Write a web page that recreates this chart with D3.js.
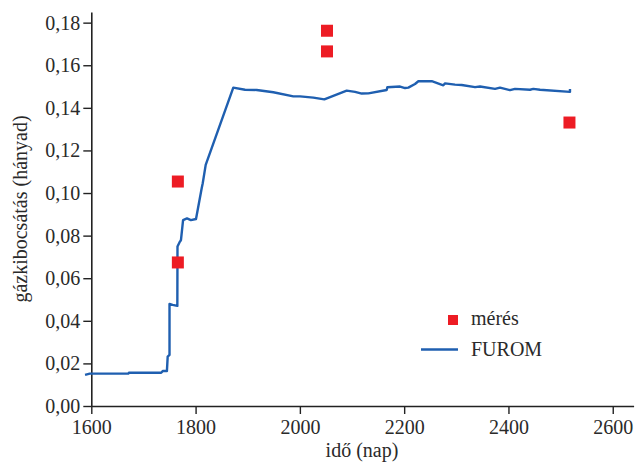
<!DOCTYPE html>
<html>
<head>
<meta charset="utf-8">
<script src="https://cdn.jsdelivr.net/npm/d3@7"></script>
<style>
  html, body { margin: 0; padding: 0; background: #fff; }
</style>
</head>
<body>
<svg id="chart" width="637" height="463"></svg>
<script>
// ---- data ----
const xTicks = [1600, 1800, 2000, 2200, 2400, 2600];
const yTicks = [0, 0.02, 0.04, 0.06, 0.08, 0.10, 0.12, 0.14, 0.16, 0.18];

// measurements (mérés)
const meresDays = [1766, 1766, 2052, 2052, 2517];
const meresValues = [0.1054, 0.0674, 0.1762, 0.1665, 0.1331];

// FUROM model curve
const furomDays = [1588, 1597, 1671, 1672, 1734, 1737, 1745, 1746.5, 1750, 1750, 1756, 1765, 1765.3, 1770, 1771, 1772, 1776, 1783.5, 1791, 1800.8, 1811.7, 1813.7, 1819.4, 1872.3,
  1894.8, 1917.2, 1949.1, 1987.4, 2000.3, 2025.8, 2046.9, 2089.8, 2105.8, 2118.6, 2131.3, 2166.5, 2167.7, 2192.1, 2201.6, 2208, 2220.8, 2227.2, 2252.9, 2275.1, 2278.4,
  2297.5, 2310.4, 2335.9, 2345.5, 2374.3, 2383.8, 2403, 2412.6, 2441.4, 2447.7, 2460.6, 2518, 2518];
const furomValues = [0.0146, 0.0152, 0.0152, 0.0156, 0.0156, 0.0164, 0.0164, 0.0232, 0.0240, 0.0479, 0.0475, 0.0470, 0.0749, 0.0772, 0.0775, 0.0780, 0.0873, 0.0881, 0.0873, 0.0878, 0.1022, 0.1046, 0.1132, 0.1495,
  0.1485, 0.1484, 0.1473, 0.1454, 0.1454, 0.1448, 0.1440, 0.1481, 0.1475, 0.1467, 0.1468, 0.1484, 0.1497, 0.1500, 0.1493, 0.1495, 0.1512, 0.1525, 0.1525, 0.1506, 0.1515,
  0.1509, 0.1507, 0.1497, 0.1500, 0.1489, 0.1495, 0.1483, 0.1489, 0.1485, 0.1489, 0.1485, 0.1475, 0.1489];

const legendLabels = ["mérés", "FUROM"];
const xLabel = "idő (nap)";
const yLabel = "gázkibocsátás (hányad)";

// ---- drawing ----
const FONT = "'Liberation Serif', 'DejaVu Serif', 'Times New Roman', serif";
const TXT = "#2a2a2a";
const svg = d3.select("#chart");
const x = d3.scaleLinear().domain([1600, 2640]).range([91.3, 633.6]);
const y = d3.scaleLinear().domain([0, 0.185]).range([406, 12]);

const fmt = d => d3.format(".2f")(d).replace(".", ",");

const xAxis = svg.append("g")
  .attr("transform", "translate(0,406)")
  .call(d3.axisBottom(x).tickValues(xTicks).tickSize(8).tickPadding(6).tickFormat(d3.format("d")).tickSizeOuter(0));
const yAxis = svg.append("g")
  .attr("transform", "translate(91.3,0)")
  .call(d3.axisLeft(y).tickValues(yTicks).tickSize(8).tickPadding(3).tickFormat(fmt).tickSizeOuter(0));

[xAxis, yAxis].forEach(g => {
  g.attr("font-family", null).attr("font-size", null);
  g.selectAll("path.domain").attr("stroke", "#222").attr("stroke-width", 1.6);
  g.selectAll(".tick line").attr("stroke", "#222").attr("stroke-width", 1.4);
  g.selectAll(".tick text").style("font-family", FONT).style("font-size", "20px").style("fill", TXT);
});

// axis titles
svg.append("text")
  .attr("x", 362).attr("y", 457)
  .attr("text-anchor", "middle")
  .style("font-family", FONT).style("font-size", "20px").style("fill", TXT)
  .text(xLabel);
svg.append("text")
  .attr("transform", "translate(27,209) rotate(-90)")
  .attr("text-anchor", "middle")
  .style("font-family", FONT).style("font-size", "20px").style("fill", TXT)
  .text(yLabel);

// FUROM line
const furom = furomDays.map((d, i) => [d, furomValues[i]]);
const lineGen = d3.line().x(d => x(d[0])).y(d => y(d[1]));
svg.append("path")
  .datum(furom)
  .attr("d", lineGen)
  .attr("fill", "none")
  .attr("stroke", "#1f5fb0")
  .attr("stroke-width", 2.4)
  .attr("stroke-linejoin", "round");

// measurement squares
const sq = 12;
svg.selectAll("rect.meres")
  .data(meresDays.map((d, i) => [d, meresValues[i]]))
  .enter().append("rect")
  .attr("class", "meres")
  .attr("x", d => x(d[0]) - sq / 2)
  .attr("y", d => y(d[1]) - sq / 2)
  .attr("width", sq).attr("height", sq)
  .attr("fill", "#ed1c24");

// legend
const lg = svg.append("g");
lg.append("rect").attr("x", 448).attr("y", 315).attr("width", 10).attr("height", 10).attr("fill", "#ed1c24");
lg.append("text").attr("x", 471).attr("y", 325)
  .style("font-family", FONT).style("font-size", "20px").style("fill", TXT)
  .text(legendLabels[0]);
lg.append("line").attr("x1", 421).attr("x2", 458).attr("y1", 349.5).attr("y2", 349.5)
  .attr("stroke", "#1f5fb0").attr("stroke-width", 2.4);
lg.append("text").attr("x", 471).attr("y", 356)
  .style("font-family", FONT).style("font-size", "20px").style("fill", TXT)
  .text(legendLabels[1]);
</script>
</body>
</html>
